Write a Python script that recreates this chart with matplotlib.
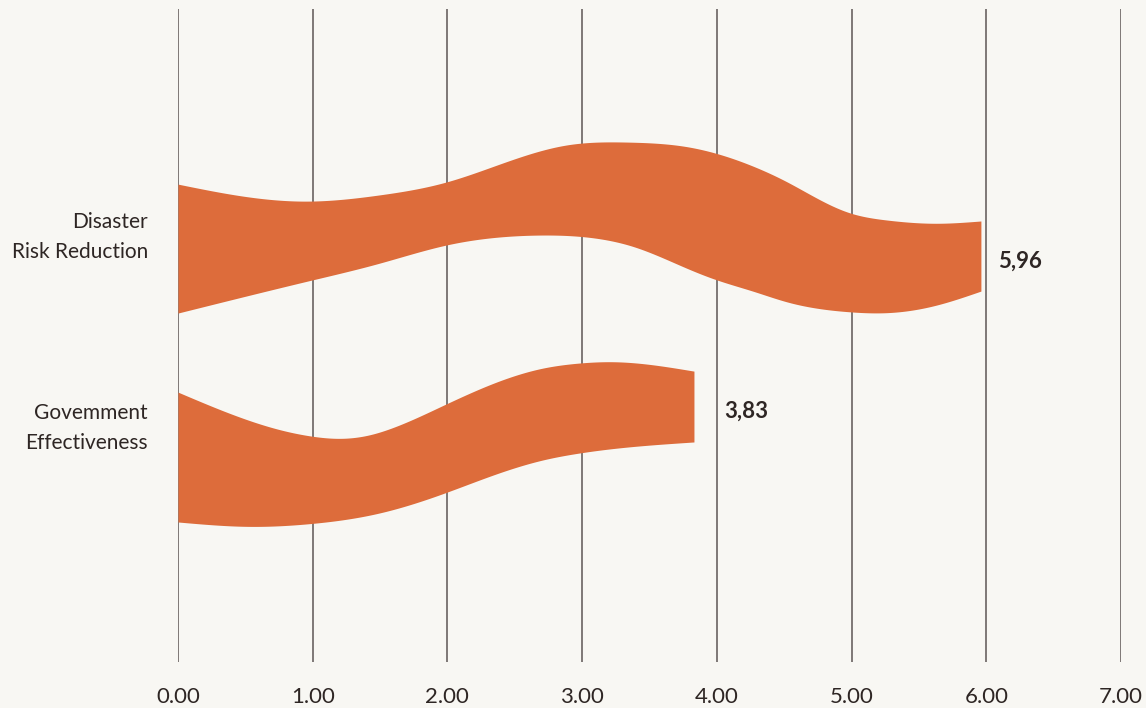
import numpy as np
import matplotlib.pyplot as plt

# ---- data -------------------------------------------------------------
categories = ["Disaster\nRisk Reduction", "Govemment\nEffectiveness"]
scores = [5.96, 3.83]
score_labels = ["5,96", "3,83"]
x_ticks = [0, 1, 2, 3, 4, 5, 6, 7]
x_tick_labels = ["0.00", "1.00", "2.00", "3.00", "4.00", "5.00", "6.00", "7.00"]

# ---- ribbon outlines ----------------------------------------------------
# knots along each bar (0 = base, 1 = tip) and the edge offsets from the
# row centre, measured in row units (y axis points downwards)
drr_top_t = [0.0, 0.072, 0.159, 0.25, 0.334, 0.404, 0.484, 0.561, 0.634,
             0.718, 0.758, 0.800, 0.835, 0.883, 0.945, 1.0]
drr_top_off = [-0.277, -0.220, -0.188, -0.220, -0.288, -0.387, -0.482, -0.497, -0.473,
               -0.368, -0.290, -0.194, -0.129, -0.089, -0.072, -0.084]
drr_bot_t = [0.0, 0.167, 0.25, 0.334, 0.446, 0.509, 0.568, 0.634, 0.668, 0.718,
             0.758, 0.835, 0.883, 0.945, 1.0]
drr_bot_off = [0.398, 0.225, 0.138, 0.042, -0.010, 0.000, 0.051, 0.164, 0.220, 0.286,
               0.339, 0.391, 0.396, 0.356, 0.283]

ge_top_t = [0.0, 0.195, 0.258, 0.317, 0.369, 0.418, 0.515, 0.611, 0.706,
            0.773, 0.845, 1.0]
ge_top_off = [-0.188, 0.007, 0.042, 0.054, 0.037, -0.004, -0.120, -0.234, -0.313,
              -0.339, -0.347, -0.298]
ge_bot_t = [0.0, 0.137, 0.258, 0.387, 0.515, 0.611, 0.706, 0.773, 0.845, 1.0]
ge_bot_off = [0.492, 0.515, 0.500, 0.447, 0.342, 0.246, 0.168, 0.133, 0.107, 0.073]

ribbons = [
    ((drr_top_t, drr_top_off), (drr_bot_t, drr_bot_off)),
    ((ge_top_t, ge_top_off), (ge_bot_t, ge_bot_off)),
]
label_pad_pts = [12, 22]

# ---- style --------------------------------------------------------------
BG = "#f8f7f3"
ORANGE = "#dd6c3b"
TEXT = "#2e2624"
GRID = "#6a6361"
plt.rcParams["font.family"] = ["Lato", "DejaVu Sans"]


def smooth_edge(knots_t, knots_y, t_eval):
    """Natural cubic spline through the knots."""
    x = np.asarray(knots_t, float)
    y = np.asarray(knots_y, float)
    n = len(x)
    h = np.diff(x)
    d = np.diff(y) / h
    A = np.zeros((n, n))
    b = np.zeros(n)
    A[0, 0] = A[-1, -1] = 1.0
    for i in range(1, n - 1):
        A[i, i - 1] = h[i - 1]
        A[i, i] = 2 * (h[i - 1] + h[i])
        A[i, i + 1] = h[i]
        b[i] = 6 * (d[i] - d[i - 1])
    M = np.linalg.solve(A, b)
    i = np.clip(np.searchsorted(x, t_eval, side="right") - 1, 0, n - 2)
    hi = h[i]
    a = x[i + 1] - t_eval
    c = t_eval - x[i]
    return (M[i] * a**3 / (6 * hi) + M[i + 1] * c**3 / (6 * hi)
            + (y[i] / hi - M[i] * hi / 6) * a + (y[i + 1] / hi - M[i + 1] * hi / 6) * c)


fig = plt.figure(figsize=(11.46, 7.08), dpi=100, facecolor=BG)
ax = fig.add_axes([0.1553, 0.065, 0.8229, 0.9223])
ax.set_facecolor(BG)

rows = np.arange(len(categories))
tt = np.linspace(0.0, 1.0, 600)
for row, score, text, (top, bot), pad in zip(rows, scores, score_labels, ribbons, label_pad_pts):
    top_y = smooth_edge(*top, tt)
    bot_y = smooth_edge(*bot, tt)
    ax.fill_between(tt * score, row + top_y, row + bot_y, color=ORANGE,
                    linewidth=0, zorder=3)
    tip_mid = row + 0.5 * (top_y[-1] + bot_y[-1])
    ax.annotate(text, xy=(score, tip_mid), xytext=(pad, -3.5),
                textcoords="offset points", ha="left", va="center",
                fontsize=16, fontweight="bold", color=TEXT)

# category names, right-aligned just left of the axis
for row, name in zip(rows, categories):
    ax.annotate(name, xy=(0, row), xycoords=("axes fraction", "data"),
                xytext=(-21.5, 0), textcoords="offset points",
                ha="right", va="center", linespacing=1.6,
                fontsize=15, color=TEXT)

ax.set_xlim(0, 7)
ax.set_ylim(2.225, -1.194)
ax.set_xticks(x_ticks)
ax.set_xticklabels(x_tick_labels)
ax.set_yticks([])

ax.grid(axis="x", color=GRID, linewidth=1.2)
ax.set_axisbelow(True)
for sp in ax.spines.values():
    sp.set_visible(False)

ax.tick_params(axis="x", length=0, pad=18, labelsize=16, labelcolor=TEXT)

fig.savefig("out.png", dpi=100, facecolor=BG)
